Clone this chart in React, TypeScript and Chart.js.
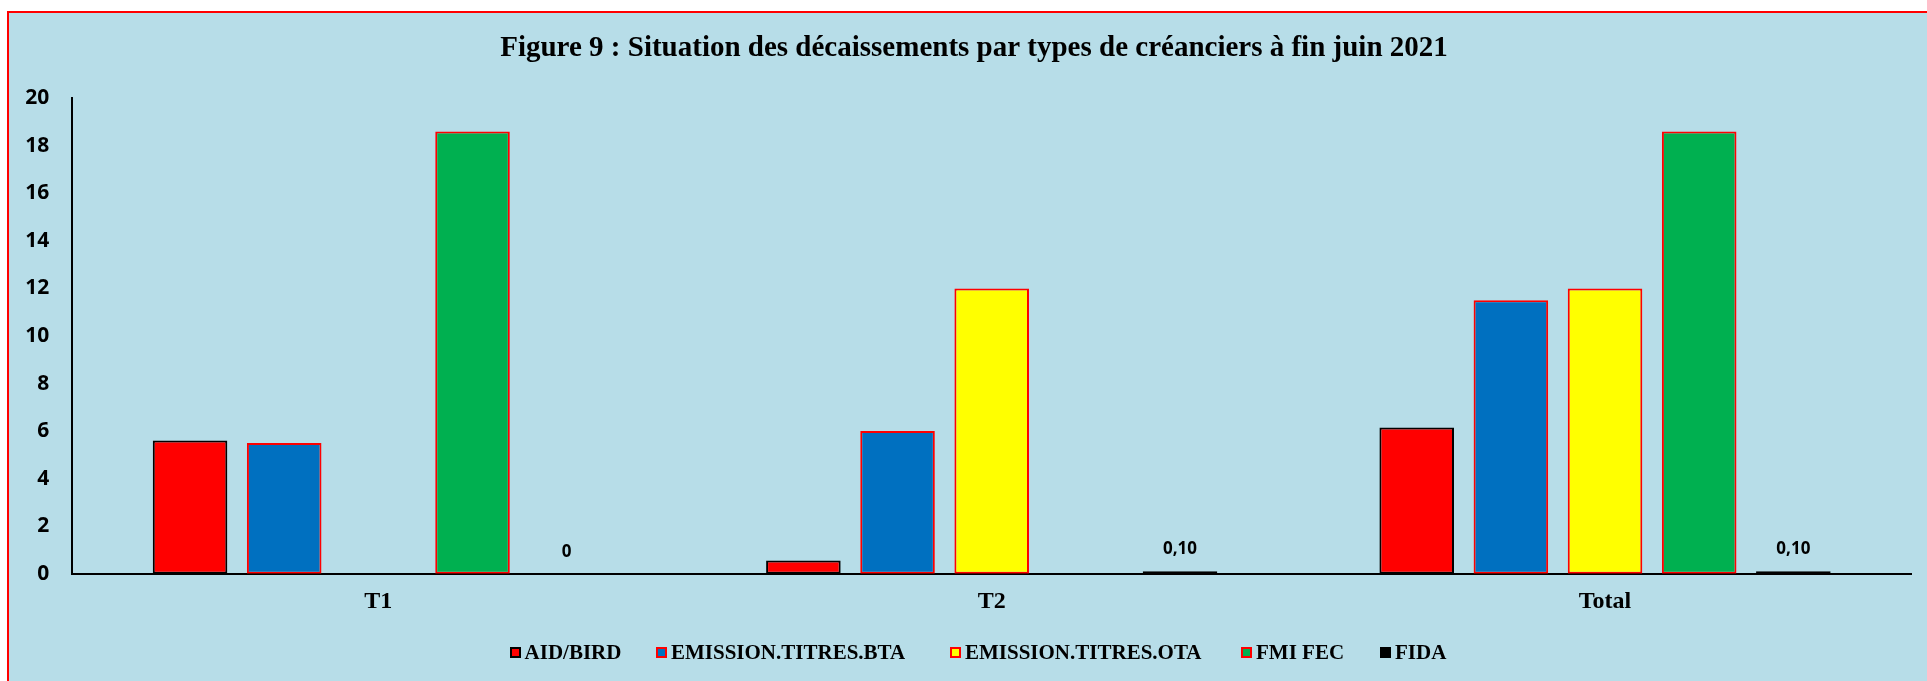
import React, { useEffect, useRef } from "react";
import { Chart, registerables } from "chart.js";

Chart.register(...registerables);

// ---------- data ----------
const categories = ["T1", "T2", "Total"];
const seriesNames = [
  "AID/BIRD",
  "EMISSION.TITRES.BTA",
  "EMISSION.TITRES.OTA",
  "FMI FEC",
  "FIDA",
];
const aidBird = [5.6, 0.56, 6.15];
const emissionBta = [5.5, 6.0, 11.5];
const emissionOta = [0, 12.0, 12.0];
const fmiFec = [18.6, 0, 18.6];
const fida = [0, 0.1, 0.1];
const fidaLabels = ["0", "0,10", "0,10"];
const yMin = 0;
const yMax = 20;
const yStep = 2;
const titleText =
  "Figure 9 : Situation des décaissements par types de créanciers à fin juin 2021";

// ---------- styles ----------
const fills = ["#FF0000", "#0070C0", "#FFFF00", "#00B050", "#000000"];
const borders = ["#000000", "#FF0000", "#FF0000", "#FF0000", "#000000"];
const legendLefts = [509.6, 656, 950, 1241, 1380];
const BG = "#B7DDE8";
const SERIF = "'Liberation Serif', 'Times New Roman', serif";
const SANS = "'Open Sans', 'Noto Sans', sans-serif";

const fidaLabelPlugin = {
  id: "fidaLabels",
  afterLayout(chart: any) {
    // centre the title like the original (over x 36..1912)
    if (chart.titleBlock) chart.titleBlock.left = 36.3;
  },
  afterDatasetsDraw(chart: any) {
    const meta = chart.getDatasetMeta(4);
    const ctx = chart.ctx;
    ctx.save();
    ctx.font = `bold 17px ${SANS}`;
    ctx.fillStyle = "#000";
    ctx.textAlign = "center";
    ctx.textBaseline = "middle";
    meta.data.forEach((el: any, i: number) => {
      ctx.fillText(fidaLabels[i], el.x, el.y - 22);
    });
    ctx.restore();
  },
};

export default function App() {
  const ref = useRef<HTMLCanvasElement | null>(null);

  useEffect(() => {
    if (!ref.current) return;
    const seriesData = [aidBird, emissionBta, emissionOta, fmiFec, fida];
    const chart = new Chart(ref.current, {
      type: "bar",
      data: {
        labels: categories,
        datasets: seriesNames.map((name, i) => ({
          label: name,
          data: seriesData[i],
          backgroundColor: fills[i],
          borderColor: borders[i],
          borderWidth: 2,
          borderSkipped: false,
          categoryPercentage: 0.7676,
          barPercentage: 0.792,
        })),
      },
      options: {
        responsive: false,
        animation: false,
        devicePixelRatio: 1,
        layout: { padding: { left: 20, right: 15.3, top: 0, bottom: 51.3 } },
        plugins: {
          legend: { display: false },
          tooltip: { enabled: false },
          title: {
            display: true,
            text: titleText,
            color: "#000",
            font: { family: SERIF, size: 29, weight: "bold" },
            padding: { top: 31.6, bottom: 31.9 },
          },
        },
        scales: {
          x: {
            grid: { display: false, drawTicks: false },
            border: { display: true, color: "#000", width: 2 },
            ticks: {
              color: "#000",
              padding: 13.6,
              font: { family: SERIF, size: 24, weight: "bold" },
            },
          },
          y: {
            min: yMin,
            max: yMax,
            grid: { display: false, drawTicks: false },
            border: { display: true, color: "#000", width: 2 },
            ticks: {
              stepSize: yStep,
              color: "#000",
              padding: 22.4,
              font: { family: SANS, size: 21, weight: "bold" },
            },
            afterFit: (s: any) => {
              s.width = 51.7;
            },
          },
        },
      },
      plugins: [fidaLabelPlugin],
    });
    return () => chart.destroy();
  }, []);

  return (
    <div
      style={{
        position: "absolute",
        left: 0,
        top: 0,
        width: 1927,
        height: 681,
        overflow: "hidden",
        background: "#fff",
      }}
    >
      <div
        style={{
          position: "absolute",
          left: 7,
          top: 11,
          width: 1960,
          height: 720,
          borderLeft: "2px solid #FF0000",
          borderTop: "2px solid #FF0000",
          background: BG,
        }}
      />
      <canvas
        ref={ref}
        width={1927}
        height={681}
        style={{ position: "absolute", left: 0, top: 0, width: 1927, height: 681 }}
      />
      {seriesNames.map((name, i) => (
        <div
          key={name}
          style={{
            position: "absolute",
            left: legendLefts[i],
            top: 652,
            transform: "translateY(-50%)",
            display: "flex",
            alignItems: "center",
            fontFamily: SERIF,
            fontWeight: "bold",
            fontSize: 21,
            color: "#000",
            whiteSpace: "nowrap",
          }}
        >
          <span
            style={{
              display: "inline-block",
              boxSizing: "border-box",
              width: 11,
              height: 11,
              background: fills[i],
              border: `2px solid ${borders[i]}`,
              marginRight: 4,
            }}
          />
          <span style={{ lineHeight: "24px" }}>{name}</span>
        </div>
      ))}
    </div>
  );
}
